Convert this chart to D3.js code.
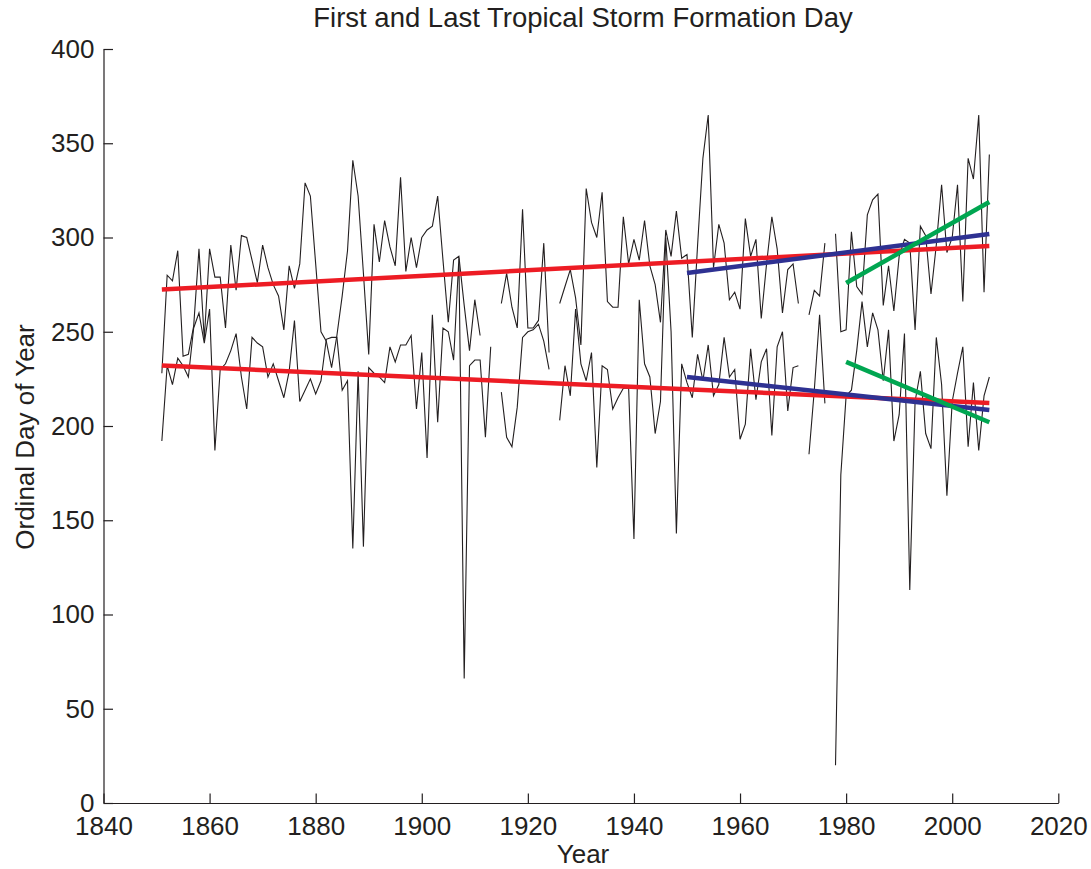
<!DOCTYPE html>
<html>
<head>
<meta charset="utf-8">
<script src="https://cdn.jsdelivr.net/npm/d3@7"></script>
<style>
  body { margin: 0; background: #fff; }
  text { font-family: "Liberation Sans", Arial, sans-serif; fill: #231f20; }
</style>
</head>
<body>
<script>
// years 1851..2007, null = no value plotted for that year
const years = d3.range(1851, 2008);

const lastDay = [
  228, 280, 277, 293, 237, 238, 253, 294, 246, 294,   // 1851-1860
  279, 279, 252, 296, 272, 301, 300, 288, 276, 296,   // 1861-1870
  284, 275, 269, 251, 285, 273, 286, 329, 322, 286,   // 1871-1880
  250, 245, 231, 248, 269, 293, 341, 322, 281, 238,   // 1881-1890
  307, 287, 309, 295, 285, 332, 282, 300, 284, 300,   // 1891-1900
  304, 306, 322, 288, 255, 288, 290, 264, 240, 267,   // 1901-1910
  248, null, null, null, 265, 281, 263, 252, 315, 252, // 1911-1920
  252, 256, 297, 239, null, 265, 274, 283, 268, 243,  // 1921-1930
  326, 308, 300, 324, 266, 263, 263, 311, 286, 299,   // 1931-1940
  288, 309, 285, 275, 255, 304, 290, 314, 289, 291,   // 1941-1950
  247, 296, 342, 365, 284, 307, 297, 267, 271, 262,   // 1951-1960
  310, 290, 299, 257, 286, 311, 294, 260, 283, 286,   // 1961-1970
  265, null, 259, 272, 269, 297, null, 302, 250, 251, // 1971-1980
  303, 274, 270, 312, 320, 323, 264, 285, 261, 290,   // 1981-1990
  299, 297, 251, 306, 301, 270, 296, 328, 292, 300,   // 1991-2000
  328, 266, 342, 331, 365, 271, 344                   // 2001-2007
];

const firstDay = [
  192, 232, 222, 236, 232, 226, 252, 260, 244, 262,   // 1851-1860
  187, 230, 233, 240, 249, 226, 209, 247, 244, 242,   // 1861-1870
  226, 233, 224, 215, 229, 256, 213, 219, 225, 217,   // 1871-1880
  224, 246, 247, 247, 219, 224, 135, 229, 136, 231,   // 1881-1890
  228, 226, 223, 242, 234, 243, 243, 248, 209, 239,   // 1891-1900
  183, 259, 202, 252, 250, 235, 289, 66, 232, 235,    // 1901-1910
  235, 194, 242, null, 218, 194, 189, 210, 247, 250,  // 1911-1920
  251, 254, 245, 230, null, 203, 232, 216, 262, 233,  // 1921-1930
  224, 239, 178, 232, 230, 209, 215, 220, 220, 140,   // 1931-1940
  267, 233, 226, 196, 213, 300, 250, 143, 233, 223,   // 1941-1950
  215, 238, 224, 243, 216, 222, 247, 226, 230, 193,   // 1951-1960
  201, 241, 214, 234, 241, 195, 242, 250, 208, 231,   // 1961-1970
  232, null, 185, 219, 259, 212, null, 20, 174, 216,  // 1971-1980
  219, 240, 266, 242, 260, 251, 224, 251, 192, 206,   // 1981-1990
  249, 113, 213, 229, 196, 188, 247, 222, 163, 213,   // 1991-2000
  228, 242, 189, 223, 187, 216, 226                   // 2001-2007
];

// linear fits (start / end values)
const fitYearsAll = [1851, 2007];
const fitLastAll = [272.4, 295.5];
const fitFirstAll = [232.1, 212.2];
const fitYears1950 = [1950, 2007];
const fitLast1950 = [281.2, 301.9];
const fitFirst1950 = [226.0, 208.5];
const fitYears1980 = [1980, 2007];
const fitLast1980 = [275.9, 318.8];
const fitFirst1980 = [234.0, 202.0];

const xTicks = [1840, 1860, 1880, 1900, 1920, 1940, 1960, 1980, 2000, 2020];
const yTicks = [0, 50, 100, 150, 200, 250, 300, 350, 400];

const W = 1091, H = 869;
const plotL = 103.5, plotR = 1058.3, plotT = 49, plotB = 803;

const svg = d3.select('body')
  .append('svg')
  .attr('width', W)
  .attr('height', H);

const x = d3.scaleLinear().domain([1840, 2020]).range([plotL, plotR]);
const y = d3.scaleLinear().domain([0, 400]).range([plotB, plotT]);

// axes, ticks pointing inward like the original
const xAxis = d3.axisBottom(x)
  .tickValues(xTicks)
  .tickFormat(d3.format('d'))
  .tickSizeInner(-9.5)
  .tickSizeOuter(0)
  .tickPadding(14);

const yAxis = d3.axisLeft(y)
  .tickValues(yTicks)
  .tickSizeInner(-9.5)
  .tickSizeOuter(0)
  .tickPadding(9);

const gx = svg.append('g')
  .attr('transform', 'translate(0,' + plotB + ')')
  .call(xAxis);
const gy = svg.append('g')
  .attr('transform', 'translate(' + plotL + ',0)')
  .call(yAxis);

[gx, gy].forEach(g => {
  g.select('.domain').attr('stroke', '#231f20').attr('stroke-width', 1.2);
  g.selectAll('.tick line').attr('stroke', '#231f20').attr('stroke-width', 1.2);
  g.selectAll('.tick text')
    .style('font-family', '"Liberation Sans", Arial, sans-serif')
    .style('font-size', '26px')
    .attr('fill', '#231f20');
});

// data series
const line = d3.line()
  .defined(d => d[1] != null)
  .x(d => x(d[0]))
  .y(d => y(d[1]));

[lastDay, firstDay].forEach(series => {
  svg.append('path')
    .datum(years.map((yr, i) => [yr, series[i]]))
    .attr('fill', 'none')
    .attr('stroke', '#231f20')
    .attr('stroke-width', 1.1)
    .attr('stroke-linejoin', 'miter')
    .attr('d', line);
});

// trend lines
const fits = [
  [fitYearsAll, fitLastAll, '#ed1c24'],
  [fitYearsAll, fitFirstAll, '#ed1c24'],
  [fitYears1950, fitLast1950, '#2e3192'],
  [fitYears1950, fitFirst1950, '#2e3192'],
  [fitYears1980, fitLast1980, '#00a651'],
  [fitYears1980, fitFirst1980, '#00a651']
];

fits.forEach(f => {
  svg.append('path')
    .datum(f[0].map((yr, i) => [yr, f[1][i]]))
    .attr('fill', 'none')
    .attr('stroke', f[2])
    .attr('stroke-width', 4.5)
    .attr('d', line);
});

// labels
svg.append('text')
  .attr('x', 583)
  .attr('y', 27)
  .attr('text-anchor', 'middle')
  .style('font-size', '27.5px')
  .text('First and Last Tropical Storm Formation Day');

svg.append('text')
  .attr('x', 583)
  .attr('y', 863)
  .attr('text-anchor', 'middle')
  .style('font-size', '26px')
  .text('Year');

svg.append('text')
  .attr('transform', 'translate(34,' + ((plotT + plotB) / 2 + 11) + ') rotate(-90)')
  .attr('text-anchor', 'middle')
  .style('font-size', '26px')
  .text('Ordinal Day of Year');
</script>
</body>
</html>
